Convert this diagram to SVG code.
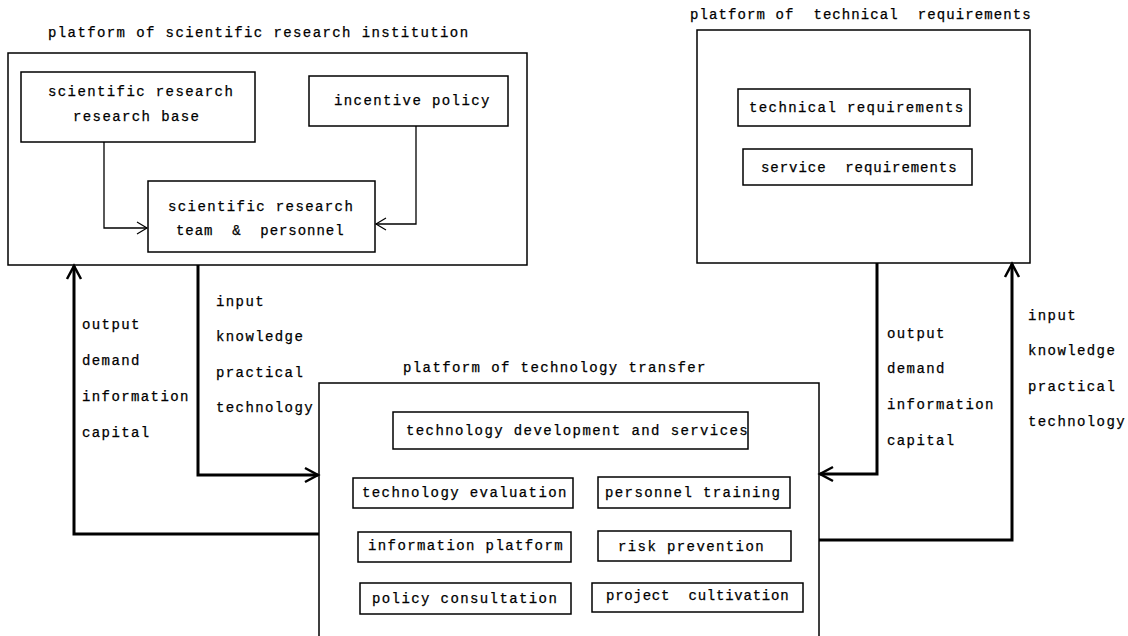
<svg xmlns="http://www.w3.org/2000/svg" width="1128" height="636" viewBox="0 0 1128 636">
<defs>
<style>
text{font-family:"Liberation Mono","DejaVu Sans Mono",monospace;font-size:14px;fill:#000;stroke:#000;stroke-width:0.25;letter-spacing:1.4px}
.box{fill:none;stroke:#000;stroke-width:1.5}
.thin{fill:none;stroke:#000;stroke-width:1.3}
.thick{fill:none;stroke:#000;stroke-width:3}
</style>
<marker id="ah" markerUnits="userSpaceOnUse" markerWidth="16" markerHeight="16" refX="12" refY="8" orient="auto">
<path d="M2,2 L12,8 L2,14" fill="none" stroke="#000" stroke-width="1.2"/>
</marker>
<marker id="ahb" markerUnits="userSpaceOnUse" markerWidth="20" markerHeight="20" refX="16" refY="10" orient="auto">
<path d="M3,3 L16,10 L3,17" fill="none" stroke="#000" stroke-width="2.5"/>
</marker>
</defs>
<rect width="1128" height="636" fill="#fff"/>

<g id="platform-research">
<text x="48" y="37">platform of scientific research institution</text>
<rect class="box" x="8" y="53" width="519" height="212"/>
</g>
<g id="research-base">
<rect class="box" x="21" y="72" width="234" height="70"/>
<text x="48" y="96">scientific research</text>
<text x="73" y="121">research base</text>
</g>
<g id="incentive-policy">
<rect class="box" x="309" y="76" width="199" height="50"/>
<text x="334" y="105">incentive policy</text>
</g>
<g id="research-team">
<rect class="box" x="148" y="181" width="227" height="71"/>
<text x="168" y="211">scientific research</text>
<text x="176" y="235" xml:space="preserve" textLength="169">team  &amp;  personnel</text>
</g>

<g id="platform-requirements">
<text x="690" y="19" xml:space="preserve" textLength="342">platform of  technical  requirements</text>
<rect class="box" x="697" y="30" width="333" height="233"/>
</g>
<g id="technical-requirements">
<rect class="box" x="738" y="89" width="232" height="37"/>
<text x="749" y="112">technical requirements</text>
</g>
<g id="service-requirements">
<rect class="box" x="743" y="149" width="229" height="36"/>
<text x="761" y="172" xml:space="preserve" textLength="197">service  requirements</text>
</g>

<g id="platform-transfer">
<text x="403" y="372">platform of technology transfer</text>
<rect class="box" x="319" y="383" width="500" height="260"/>
</g>
<g id="tech-development">
<rect class="box" x="393" y="412" width="355" height="37"/>
<text x="406" y="435">technology development and services</text>
</g>
<g id="tech-evaluation">
<rect class="box" x="353" y="478" width="220" height="30"/>
<text x="362" y="497">technology evaluation</text>
</g>
<g id="personnel-training">
<rect class="box" x="598" y="477" width="192" height="31"/>
<text x="605" y="497">personnel training</text>
</g>
<g id="information-platform">
<rect class="box" x="358" y="532" width="213" height="30"/>
<text x="368" y="550">information platform</text>
</g>
<g id="risk-prevention">
<rect class="box" x="598" y="531" width="193" height="30"/>
<text x="618" y="551">risk prevention</text>
</g>
<g id="policy-consultation">
<rect class="box" x="360" y="583" width="211" height="31"/>
<text x="372" y="603">policy consultation</text>
</g>
<g id="project-cultivation">
<rect class="box" x="592" y="583" width="211" height="29"/>
<text x="606" y="600" xml:space="preserve" textLength="184">project  cultivation</text>
</g>

<g id="connectors">
<polyline class="thin" points="104,142 104,228 147,228" marker-end="url(#ah)"/>
<polyline class="thin" points="416,126 416,224 376,224" marker-end="url(#ah)"/>
<polyline class="thick" points="319,534 74,534 74,266" marker-end="url(#ahb)"/>
<polyline class="thick" points="198,265 198,475 318,475" marker-end="url(#ahb)"/>
<polyline class="thick" points="877,263 877,474 820,474" marker-end="url(#ahb)"/>
<polyline class="thick" points="819,540 1012,540 1012,264" marker-end="url(#ahb)"/>
</g>

<g id="labels">
<text x="82" y="329">output</text>
<text x="82" y="365">demand</text>
<text x="82" y="401">information</text>
<text x="82" y="437">capital</text>
<text x="216" y="306">input</text>
<text x="216" y="341">knowledge</text>
<text x="216" y="377">practical</text>
<text x="216" y="412">technology</text>
<text x="887" y="338">output</text>
<text x="887" y="373">demand</text>
<text x="887" y="409">information</text>
<text x="887" y="445">capital</text>
<text x="1028" y="320">input</text>
<text x="1028" y="355">knowledge</text>
<text x="1028" y="391">practical</text>
<text x="1028" y="426">technology</text>
</g>
</svg>
